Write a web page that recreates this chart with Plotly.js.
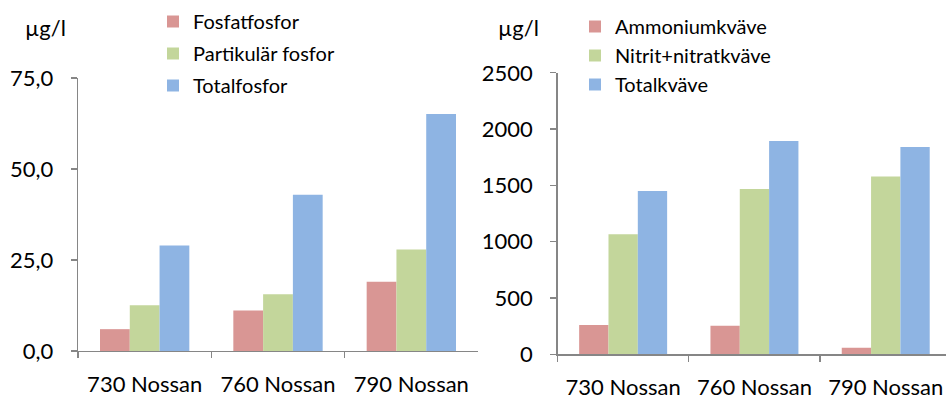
<!DOCTYPE html>
<html>
<head>
<meta charset="utf-8">
<script src="https://cdn.plot.ly/plotly-3.0.1.min.js"></script>
<style>html,body{margin:0;padding:0;background:#fff}#chart{width:946px;height:401px}</style>
</head>
<body>
<div id="chart"></div>
<script>
// Data
const categories = ["730 Nossan", "760 Nossan", "790 Nossan"];
const fosfatfosfor = [6.0, 11.1, 19.0];
const partikularFosfor = [12.6, 15.6, 27.9];
const totalfosfor = [29.0, 42.9, 65.1];
const ammoniumkvave = [260, 254, 59];
const nitritNitratkvave = [1066, 1468, 1578];
const totalkvave = [1450, 1894, 1842];
const leftTicks = [0, 25, 50, 75];
const rightTicks = [0, 500, 1000, 1500, 2000, 2500];
const unitLabel = "µg/l";

const RED = "#D99694", GREEN = "#C3D69B", BLUE = "#8EB4E3";
const FONT = "Lato, 'Open Sans', sans-serif";

function bar(name, y, color, xa, ya, legend, grp) {
  return {type: "bar", name: name, x: categories, y: y, xaxis: xa, yaxis: ya,
    legend: legend, legendgroup: grp,
    marker: {color: color, line: {width: 0}}, hoverinfo: "y"};
}

const data = [
  bar("Fosfatfosfor", fosfatfosfor, RED, "x", "y", "legend", "a"),
  bar("Partikulär fosfor", partikularFosfor, GREEN, "x", "y", "legend", "b"),
  bar("Totalfosfor", totalfosfor, BLUE, "x", "y", "legend", "c"),
  bar("Ammoniumkväve", ammoniumkvave, RED, "x2", "y2", "legend2", "d"),
  bar("Nitrit+nitratkväve", nitritNitratkvave, GREEN, "x2", "y2", "legend2", "e"),
  bar("Totalkväve", totalkvave, BLUE, "x2", "y2", "legend2", "f")
];

const W = 946, H = 401;
const axLine = {showline: true, linecolor: "#868686", linewidth: 1.3, showgrid: false, zeroline: false,
  ticks: "outside", ticklen: 6, tickcolor: "#868686", tickwidth: 1.3,
  tickfont: {family: FONT, size: 22, color: "#000"}};

const legendBase = {yanchor: "top", xanchor: "left", bgcolor: "rgba(0,0,0,0)",
  font: {family: FONT, size: 20, color: "#000"}, borderwidth: 0};

const layout = {
  width: W, height: H,
  margin: {l: 0, r: 0, t: 0, b: 0},
  paper_bgcolor: "#fff", plot_bgcolor: "#fff",
  separators: ", ",
  barmode: "group", bargap: 0.33, bargroupgap: 0,
  showlegend: true,
  xaxis: Object.assign({}, axLine, {domain: [78 / W, 478 / W], anchor: "y", type: "category",
    range: [-0.5, 2.5], tickson: "boundaries", ticklabelstandoff: 13, fixedrange: true}),
  yaxis: Object.assign({}, axLine, {domain: [1 - 351 / H, 1 - 78 / H], anchor: "x",
    range: [0, 75], tickvals: leftTicks, tickformat: ".1f", ticklabelstandoff: 13, fixedrange: true}),
  xaxis2: Object.assign({}, axLine, {domain: [557.5 / W, 1], anchor: "y2", type: "category",
    range: [-0.5, 2.459], tickson: "boundaries", ticklabelstandoff: 13, fixedrange: true}),
  yaxis2: Object.assign({}, axLine, {domain: [1 - 354.3 / H, 1 - 72.8 / H], anchor: "x2",
    range: [0, 2500], tickvals: rightTicks, tickformat: "d", ticklabelstandoff: 13, fixedrange: true}),
  legend: Object.assign({}, legendBase, {x: 153 / W, y: 1 - 2 / H, tracegroupgap: 3}),
  legend2: Object.assign({}, legendBase, {x: 575 / W, y: 1 - 7 / H, tracegroupgap: 0}),
  annotations: [
    {text: unitLabel, xref: "paper", yref: "paper", x: 45 / W, y: 1 - 28 / H, showarrow: false,
      xanchor: "center", yanchor: "middle", font: {family: FONT, size: 22, color: "#000"}},
    {text: unitLabel, xref: "paper", yref: "paper", x: 518 / W, y: 1 - 27 / H, showarrow: false,
      xanchor: "center", yanchor: "middle", font: {family: FONT, size: 22, color: "#000"}}
  ]
};

Plotly.newPlot("chart", data, layout, {displayModeBar: false, staticPlot: true});
</script>
</body>
</html>
